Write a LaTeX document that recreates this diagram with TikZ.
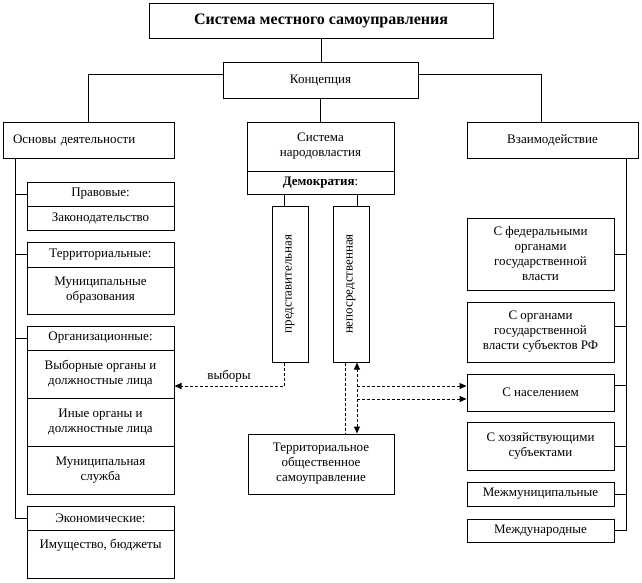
\documentclass[tikz,border=0pt]{standalone}
\usepackage{fontspec}
\setmainfont{Liberation Serif}
\usepackage{graphicx}
\usetikzlibrary{arrows.meta}
\begin{document}
\begin{tikzpicture}[x=1pt,y=-1pt,
  every node/.style={font=\fontsize{13}{15}\selectfont},
  box/.style={draw, line width=1pt, inner sep=0pt, align=center},
  ln/.style={line width=1pt},
  dsh/.style={line width=1pt, dash pattern=on 3pt off 2pt},
  tip/.style={-{Triangle[length=7pt,width=6pt]}},
  lw/.style={minimum width=147pt},
]
\fill[white] (0,0) rectangle (642,582);
\useasboundingbox (0,0) rectangle (642,582);

% top
\node[box, minimum width=344pt, minimum height=35pt, font=\fontsize{16}{18}\selectfont\bfseries] (title) at (321,20.5) {Система местного самоуправления};
\node[box, minimum width=195pt, minimum height=36pt] (konc) at (320.5,80) {Концепция};
\node[box, minimum width=171pt, minimum height=36pt, text width=151pt, align=left, inner xsep=10pt] (osn) at (88.5,140) {Основы деятельности};
\node[box, minimum width=147pt, minimum height=49pt] (sys) at (320.5,146.5) {Система\\народовластия};
\node[box, minimum width=147pt, minimum height=23pt] (dem) at (320.5,182.5) {\textbf{Демократия}:};
\node[box, minimum width=171pt, minimum height=36pt] (vz) at (552.5,140) {Взаимодействие};

\draw[ln] (title.south) -- (title.south |- konc.north);
\draw[ln] (konc.south) -- (sys.north);
\draw[ln] ([yshift=6pt]konc.west) -| (osn.north);
\draw[ln] ([yshift=6pt]konc.east) -| ([xshift=-11.5pt]vz.north);

% left column
\node[box, lw, minimum height=24pt] (pravh) at (100.5,194) {Правовые:};
\node[box, lw, minimum height=24pt] (pravb) at (100.5,218) {Законодательство};
\node[box, lw, minimum height=25pt] (terrh) at (100.5,254.5) {Территориальные:};
\node[box, lw, minimum height=47pt] (terrb) at (100.5,290.5) {Муниципальные\\образования};
\node[box, lw, minimum height=24pt] (orgh) at (100.5,338) {Организационные:};
\node[box, lw, minimum height=48pt] (orga) at (100.5,374) {Выборные органы и\\должностные лица};
\node[box, lw, minimum height=48pt] (orgb) at (100.5,422) {Иные органы и\\должностные лица};
\node[box, lw, minimum height=48pt] (orgc) at (100.5,470) {Муниципальная\\служба};
\node[box, lw, minimum height=24pt] (ecoh) at (100.5,518) {Экономические:};
\node[box, lw, minimum height=48pt] (ecob) at (100.5,554) {};
\node (ecot) at (100.5,545) {Имущество, бюджеты};

\coordinate (ltop) at (15,158);
\draw[ln] (ltop) |- (ecoh.west);
\draw[ln] (ltop |- pravh.west) -- (pravh.west);
\draw[ln] (ltop |- terrh.west) -- (terrh.west);
\draw[ln] (ltop |- orgh.west) -- (orgh.west);

% middle
\node[box, minimum width=36pt, minimum height=156pt] (pred) at (290,284) {\rotatebox{90}{представительная}};
\node[box, minimum width=36pt, minimum height=156pt] (nep) at (351,284) {\rotatebox{90}{непосредственная}};
\draw[ln] ([xshift=-6pt]pred.north |- dem.south) -- ([xshift=-6pt]pred.north);
\draw[ln] ([xshift=6pt]nep.north |- dem.south) -- ([xshift=6pt]nep.north);

\node[box, minimum width=146pt, minimum height=60pt] (tos) at (321,464) {Территориальное\\общественное\\самоуправление};

% right column
\node[box, lw, minimum height=72pt] (fed) at (540.5,254) {С федеральными\\органами\\государственной\\власти};
\node[box, lw, minimum height=60pt] (orgrf) at (540.5,332) {С органами\\государственной\\власти субъектов РФ};
\node[box, lw, minimum height=37pt] (nas) at (540.5,392.5) {С населением};
\node[box, lw, minimum height=48pt] (hoz) at (540.5,446) {С хозяйствующими\\субъектами};
\node[box, lw, minimum height=24pt] (mezhm) at (540.5,494) {Межмуниципальные};
\node[box, lw, minimum height=23pt] (mezhd) at (540.5,530.5) {Международные};

\coordinate (rtop) at (626,158);
\draw[ln] (rtop) |- (mezhd.east);
\draw[ln] (rtop |- fed.east) -- (fed.east);
\draw[ln] (rtop |- 0,326) -- (orgrf.east |- 0,326);
\draw[ln] (rtop |- 0,385) -- (nas.east |- 0,385);
\draw[ln] (rtop |- hoz.east) -- (hoz.east);
\draw[ln] (rtop |- mezhm.east) -- (mezhm.east);

% dashed connectors
\draw[dsh, tip] ([xshift=-6pt]pred.south) |- ([yshift=-12pt]orga.east);
\node (vyb) at (229,376) {выборы};
\draw[dsh] ([xshift=-6pt]nep.south) -- ([xshift=-6pt]nep.south |- tos.north);
\draw[dsh, {Triangle[length=7pt,width=6pt]}-{Triangle[length=7pt,width=6pt]}] ([xshift=6pt]nep.south) -- ([xshift=6pt]nep.south |- tos.north);
\coordinate (j1) at (357,386);
\coordinate (j2) at (357,399);
\draw[dsh, tip] (j1) -- (j1 -| nas.west);
\draw[dsh, tip] (j2) -- (j2 -| nas.west);
\end{tikzpicture}
\end{document}
